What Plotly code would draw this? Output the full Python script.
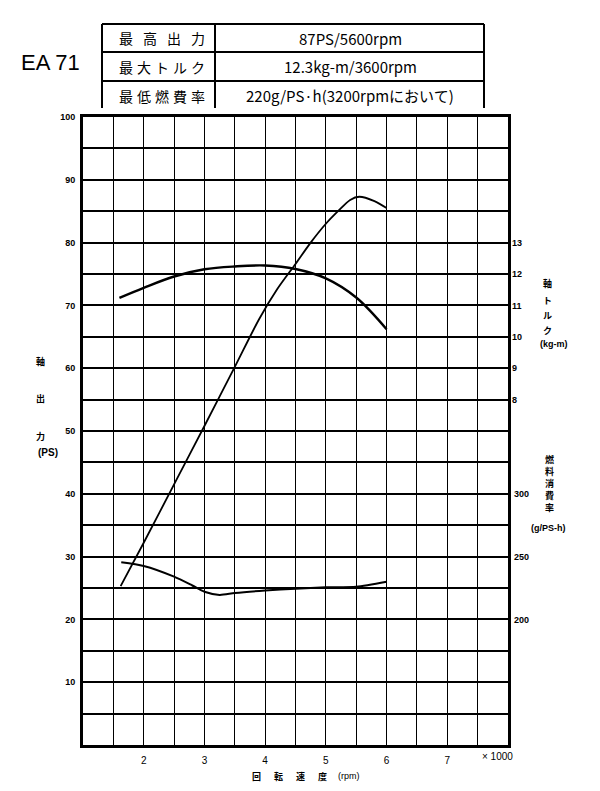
import plotly.graph_objects as go

# ---- data ----
rpm_power = [1.62, 2.0, 2.5, 3.0, 3.5, 3.9, 4.2, 4.5, 4.75, 5.0, 5.2, 5.4, 5.55, 5.8, 6.0]
power_ps = [25.3, 32.2, 41.5, 50.8, 60.2, 67.8, 72.6, 76.6, 80, 83, 85, 86.8, 87.3, 86.6, 85.5]

rpm_torque = [1.6, 2.0, 2.5, 3.0, 3.5, 4.0, 4.5, 5.0, 5.5, 6.0]
torque_kgm = [11.24, 11.56, 11.92, 12.15, 12.24, 12.27, 12.16, 11.86, 11.25, 10.24]

rpm_fuel = [1.63, 2.0, 2.5, 2.8, 3.0, 3.25, 3.5, 4.0, 4.5, 5.0, 5.5, 6.0]
fuel_gpsh = [245.5, 242.5, 234, 227, 222, 219.5, 221, 223, 224.5, 225.5, 226, 230]

x_tickvals = [1.5, 2, 2.5, 3, 3.5, 4, 4.5, 5, 5.5, 6, 6.5, 7, 7.5]
x_ticktext = ["", "2", "", "3", "", "4", "", "5", "", "6", "", "7", ""]
y_tickvals = list(range(0, 101, 5))
y_ticktext = [str(v) if (v % 10 == 0 and v > 0) else "" for v in y_tickvals]
torque_ticks = [8, 9, 10, 11, 12, 13]
fuel_ticks = [200, 250, 300]

header_rows = ["最高出力", "最大トルク", "最低燃費率"]
header_vals = ["87PS/5600rpm", "12.3kg-m/3600rpm", "220g/PS·h(3200rpmにおいて)"]

# ---- layout geometry ----
W, H = 600, 791
L, R, T, B = 83, 508, 117, 745


def px(xp):
    return (xp - L) / (R - L)


def py(yp):
    return (B - yp) / (B - T)


JP = "Noto Sans CJK JP"
NUM = "Liberation Sans"

fig = go.Figure()
fig.add_trace(go.Scatter(x=rpm_power, y=power_ps, mode="lines",
                         line=dict(color="black", width=1.8, shape="spline", smoothing=0.8),
                         showlegend=False, yaxis="y", hoverinfo="skip"))
fig.add_trace(go.Scatter(x=rpm_torque, y=torque_kgm, mode="lines",
                         line=dict(color="black", width=2.4, shape="spline"),
                         showlegend=False, yaxis="y2", hoverinfo="skip"))
fig.add_trace(go.Scatter(x=rpm_fuel, y=fuel_gpsh, mode="lines",
                         line=dict(color="black", width=2.0, shape="spline", smoothing=0.7),
                         showlegend=False, yaxis="y3", hoverinfo="skip"))

tickfont = dict(family=NUM, size=9, color="black", weight="bold")

fig.update_layout(
    width=W, height=H,
    margin=dict(l=L, r=W - R, t=T, b=H - B),
    paper_bgcolor="white", plot_bgcolor="white",
    xaxis=dict(range=[1, 8], tickvals=x_tickvals, ticktext=x_ticktext, showgrid=True,
               gridcolor="black", gridwidth=1, showline=True, linecolor="black", linewidth=3,
               mirror=True, ticks="", tickfont=dict(family=NUM, size=10, color="black"),
               zeroline=False, fixedrange=True, ticklabelstandoff=4),
    yaxis=dict(range=[0, 100], tickvals=y_tickvals, ticktext=y_ticktext, showgrid=True,
               gridcolor="black", gridwidth=2, showline=True, linecolor="black", linewidth=3,
               mirror=True, ticks="", tickfont=tickfont, zeroline=False, ticklabelstandoff=3,
               fixedrange=True),
    yaxis2=dict(range=[-3, 17], overlaying="y", side="right", anchor="x", tickvals=torque_ticks,
                showgrid=False, zeroline=False, ticks="", tickfont=tickfont, showline=False,
                ticklabelstandoff=3, fixedrange=True),
    yaxis3=dict(range=[100, 600], overlaying="y", side="right", anchor="x", tickvals=fuel_ticks,
                showgrid=False, zeroline=False, ticks="", tickfont=tickfont, showline=False,
                ticklabelstandoff=5, fixedrange=True),
)

ann = []


def add_text(text, xp, yp, size=10, family=JP, xanchor="center", weight="bold"):
    ann.append(dict(text=text, x=px(xp), y=py(yp), xref="paper", yref="paper", showarrow=False,
                    xanchor=xanchor, yanchor="middle",
                    font=dict(family=family, size=size, color="black", weight=weight)))


# left axis title
add_text("軸", 40, 361, size=9)
add_text("出", 40, 398, size=9)
add_text("力", 40, 436, size=9)
add_text("(PS)", 48, 452, size=10, family=NUM)

# right torque title
for ch, yy in zip(["軸", "ト", "ル", "ク"], [283, 300, 315, 330]):
    add_text(ch, 547, yy, size=9)
add_text("(kg-m)", 554, 344, size=9, family=NUM)

# right fuel title
for ch, yy in zip(["燃", "料", "消", "費", "率"], [459, 471, 483, 495, 507]):
    add_text(ch, 549, yy, size=9)
add_text("(g/PS-h)", 548, 528, size=9, family=NUM)

# x axis title
for ch, xx in zip(["回", "転", "速", "度"], [256, 278, 300, 322]):
    add_text(ch, xx, 776, size=9)
add_text("(rpm)", 349, 776, size=9, family=NUM, weight="normal")
add_text("× 1000", 497, 756, size=10, family=NUM, weight="normal")

# header
add_text("EA 71", 50, 62, size=22, family=NUM, weight="normal")
row_y = [38, 67, 96]
for lab, val, yy in zip(header_rows, header_vals, row_y):
    n = len(lab)
    x0, x1 = 126, 198
    for i, ch in enumerate(lab):
        add_text(ch, x0 + (x1 - x0) * i / (n - 1), yy, size=14, weight="normal")
    add_text(val, 350, yy, size=15, family=JP, weight="normal")

fig.update_layout(annotations=ann)

shapes = []
tl, tr, tm = 102, 484, 215
tt, tb = 24, 108


def line(x0, y0, x1, y1, w=2):
    shapes.append(dict(type="line", xref="paper", yref="paper", x0=px(x0), y0=py(y0),
                       x1=px(x1), y1=py(y1), line=dict(color="black", width=w)))


line(tl, tt, tr, tt)
line(tl, 52, tr, 52)
line(tl, 81, tr, 81)
line(tl, tt, tl, tb)
line(tm, tt, tm, tb)
line(tr, tt, tr, tb)
fig.update_layout(shapes=shapes)

fig.write_html("out.html", config={"displayModeBar": False},
               post_script="document.body.style.margin='0px';")
